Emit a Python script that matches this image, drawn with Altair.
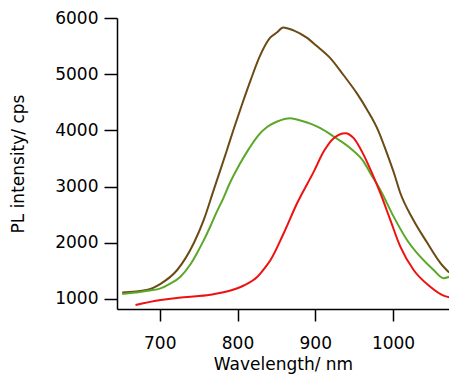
import altair as alt
import pandas as pd

brown_wl = [651.7, 682.9, 701, 722.4, 743.7, 756.6, 769.4, 778, 785.7, 795, 806, 817, 829, 842, 851, 858.6, 872, 889, 902, 919, 936, 954, 967, 981.5, 992, 1001, 1009, 1026, 1044, 1061, 1072.3]
brown_i = [1115, 1160, 1270, 1516, 1992, 2407, 2941, 3297, 3620, 4020, 4470, 4900, 5330, 5650, 5745, 5832, 5780, 5650, 5500, 5290, 4990, 4650, 4360, 3980, 3600, 3250, 2900, 2410, 2000, 1640, 1470]

green_wl = [651.7, 687.1, 701, 712.9, 726.6, 738.6, 748, 756, 765, 773, 782, 790, 802, 815, 826, 838, 851, 868, 881, 906.6, 923.7, 945.1, 962.2, 970.8, 983.7, 1000.8, 1018, 1035, 1052.2, 1065, 1072.3]
green_i = [1089, 1150, 1190, 1270, 1397, 1600, 1820, 2030, 2290, 2540, 2800, 3060, 3380, 3680, 3900, 4060, 4158, 4218, 4175, 4040, 3891, 3684, 3445, 3238, 2941, 2466, 2051, 1753, 1516, 1369, 1395]

red_wl = [668.8, 701, 713.8, 730.8, 765, 790.9, 808, 825.2, 837.1, 842.3, 859.4, 876.6, 898.1, 910.8, 923.7, 938.7, 949.4, 962.2, 973, 983.7, 996.5, 1009.4, 1026.5, 1047.9, 1065, 1072.3]
red_i = [893, 982, 1005, 1030, 1075, 1150, 1240, 1390, 1590, 1690, 2170, 2704, 3267, 3623, 3862, 3951, 3862, 3565, 3238, 2882, 2407, 1931, 1516, 1219, 1060, 1030]

series_names = ["brown", "green", "red"]
series_colors = ["#6b4a14", "#5ba829", "#ee1111"]

rows = []
for name, wl, iv in [("brown", brown_wl, brown_i), ("green", green_wl, green_i), ("red", red_wl, red_i)]:
    for k, (w, v) in enumerate(zip(wl, iv)):
        rows.append({"series": name, "wl": w, "I": v, "order": k})
df = pd.DataFrame(rows)

font = "DejaVu Sans"

chart = alt.Chart(df).mark_line(strokeWidth=2, interpolate="monotone", clip=True).encode(
    x=alt.X("wl:Q", scale=alt.Scale(domain=[645, 1072], nice=False, zero=False),
            axis=alt.Axis(title="Wavelength/ nm", values=[700, 800, 900, 1000], format="d", grid=False,
                          tickSize=12, labelPadding=14, titlePadding=5, domainColor="black",
                          tickColor="black", labelColor="black", titleColor="black",
                          labelFont=font, titleFont=font, labelFontSize=17, titleFontSize=17,
                          titleFontWeight="normal", domainWidth=1.5, tickWidth=1.5)),
    y=alt.Y("I:Q", scale=alt.Scale(domain=[822, 6000], nice=False, zero=False),
            axis=alt.Axis(title="PL intensity/ cps", values=[1000, 2000, 3000, 4000, 5000, 6000], format="d", grid=False,
                          tickSize=13, labelPadding=6, titlePadding=27, domainColor="black",
                          tickColor="black", labelColor="black", titleColor="black",
                          labelFont=font, titleFont=font, labelFontSize=17, titleFontSize=17,
                          titleFontWeight="normal", domainWidth=1.5, tickWidth=1.5)),
    color=alt.Color("series:N", scale=alt.Scale(domain=series_names, range=series_colors), legend=None),
    order="order:Q",
).properties(
    width=332, height=291,
    autosize=alt.AutoSizeParams(type="none"),
    padding={"left": 117, "top": 18, "right": 0, "bottom": 67},
).configure_view(stroke=None)

chart.save("out.html", embed_options={"renderer": "svg", "actions": False})
